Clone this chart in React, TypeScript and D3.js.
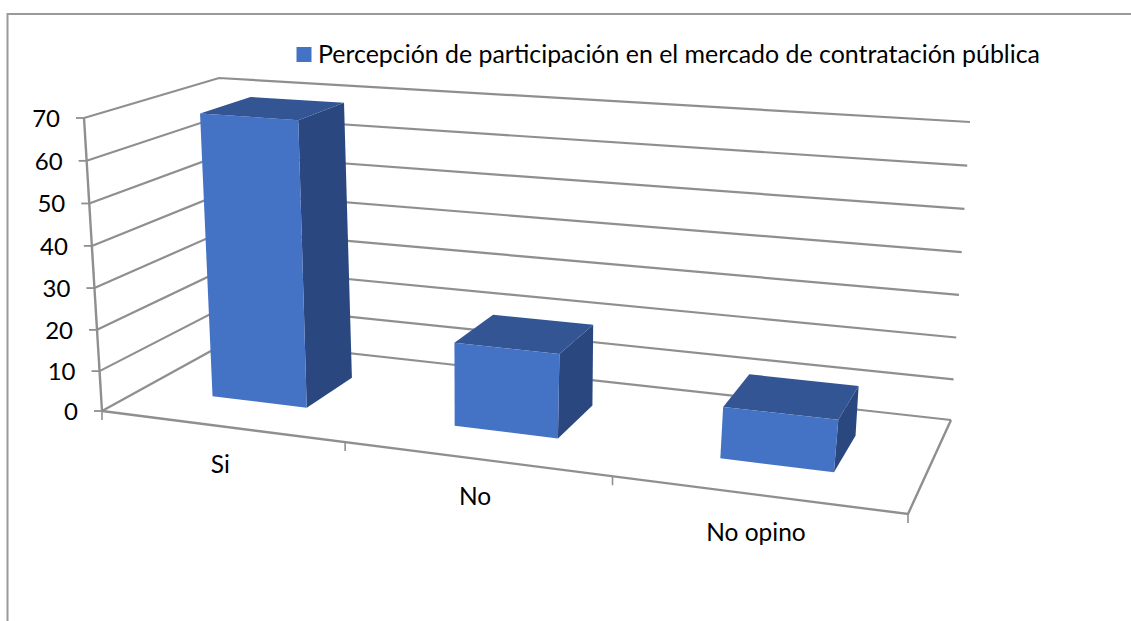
import React from "react";
import * as d3 from "d3";

const categories = ["Si", "No", "No opino"];
const values = [69, 20, 12];
const yTicks = [0, 10, 20, 30, 40, 50, 60, 70];
const seriesName = "Percepción de participación en el mercado de contratación pública";

type P = [number, number];
// Projection of the 3D box: floor and ceiling quads [front-left, front-right, back-right, back-left]
const floorQuad: P[] = [[102, 411], [908, 514], [951, 420], [231, 340]];
const ceilQuad: P[] = [[84, 118], [950, 178], [970, 122], [219, 78]];

function homography(q: P[]) {
  const [[x0, y0], [x1, y1], [x2, y2], [x3, y3]] = q;
  const dx1 = x1 - x2, dx2 = x3 - x2, sx = x0 - x1 + x2 - x3;
  const dy1 = y1 - y2, dy2 = y3 - y2, sy = y0 - y1 + y2 - y3;
  const den = dx1 * dy2 - dx2 * dy1;
  const g = (sx * dy2 - dx2 * sy) / den;
  const h = (dx1 * sy - sx * dy1) / den;
  const a = x1 - x0 + g * x1, b = x3 - x0 + h * x3;
  const d = y1 - y0 + g * y1, e = y3 - y0 + h * y3;
  return (u: number, w: number): P => {
    const k = g * u + h * w + 1;
    return [(a * u + b * w + x0) / k, (d * u + e * w + y0) / k];
  };
}

const floorAt = homography(floorQuad);
const ceilAt = homography(ceilQuad);
const vScale = d3.scalePow().exponent(1.025).domain([0, 70]).range([0, 1]);
const catScale = d3.scaleBand<number>().domain(d3.range(categories.length)).range([0, 1]).paddingInner(0).paddingOuter(0);

function project(u: number, depth: number, v: number): P {
  const a = floorAt(u, depth);
  const b = ceilAt(u, depth);
  const t = vScale(v);
  return [a[0] + (b[0] - a[0]) * t, a[1] + (b[1] - a[1]) * t];
}

const line = d3.line<P>();
const closed = (pts: P[]) => line(pts) + "Z";

const GRID = "#8f8f8f";
const FRONT = "#4472C4";
const TOP = "#335593";
const SIDE = "#2A4780";
const FONT = "Lato, Carlito, sans-serif";

const gap = 0.3;
const dNear = 0.3;
const dFar = 0.7;

export default function App() {
  const band = catScale.bandwidth();
  return (
    <svg width={1131} height={621} style={{ position: "absolute", left: 0, top: 0, background: "#fff" }}>
      <path d="M7.5,621V14H1131" fill="none" stroke="#9a9a9a" strokeWidth={2} />

      {yTicks.map((t) => (
        <path
          key={t}
          d={line([project(0, 0, t), project(0, 1, t), project(1, 1, t)]) as string}
          fill="none"
          stroke={GRID}
          strokeWidth={2.2}
        />
      ))}
      <path d={line([project(0, 0, 70), project(0, 0, 0)]) as string} fill="none" stroke={GRID} strokeWidth={2.4} />
      <path d={line([project(0, 0, 0), project(1, 0, 0), project(1, 1, 0)]) as string} fill="none" stroke={GRID} strokeWidth={2.4} />

      {yTicks.map((t) => {
        const [x, y] = project(0, 0, t);
        return (
          <g key={t}>
            <line x1={x - 8} x2={x} y1={y} y2={y} stroke={GRID} strokeWidth={1.8} />
            <text x={x - 24} y={y + 9} textAnchor="end" fontFamily={FONT} fontSize={24} fill="#000">
              {t}
            </text>
          </g>
        );
      })}

      {d3.range(categories.length + 1).map((i) => {
        const [x, y] = project(i / categories.length, 0, 0);
        return <line key={i} x1={x} x2={x} y1={y} y2={y + 9} stroke={GRID} strokeWidth={1.6} />;
      })}

      {values.map((v, i) => {
        const start = catScale(i) as number;
        const u0 = start + band * gap;
        const u1 = start + band * (1 - gap);
        const fl = project(u0, dNear, 0), fr = project(u1, dNear, 0), br = project(u1, dFar, 0);
        const tl = project(u0, dNear, v), tr = project(u1, dNear, v), tbr = project(u1, dFar, v), tbl = project(u0, dFar, v);
        return (
          <g key={categories[i]}>
            <path d={closed([fr, br, tbr, tr])} fill={SIDE} />
            <path d={closed([tl, tr, tbr, tbl])} fill={TOP} />
            <path d={closed([fl, fr, tr, tl])} fill={FRONT} />
          </g>
        );
      })}

      {categories.map((c, i) => {
        const [x, y] = project((i + 0.5) / categories.length, 0, 0);
        return (
          <text key={c} x={x - 0.5} y={y + 46.5} textAnchor="middle" fontFamily={FONT} fontSize={24.5} fill="#000">
            {c}
          </text>
        );
      })}

      <rect x={296.5} y={47} width={15} height={15} fill={FRONT} />
      <text x={318} y={63} fontFamily={FONT} fontSize={25} fill="#000" textLength={722} lengthAdjust="spacingAndGlyphs">
        {seriesName}
      </text>
    </svg>
  );
}
